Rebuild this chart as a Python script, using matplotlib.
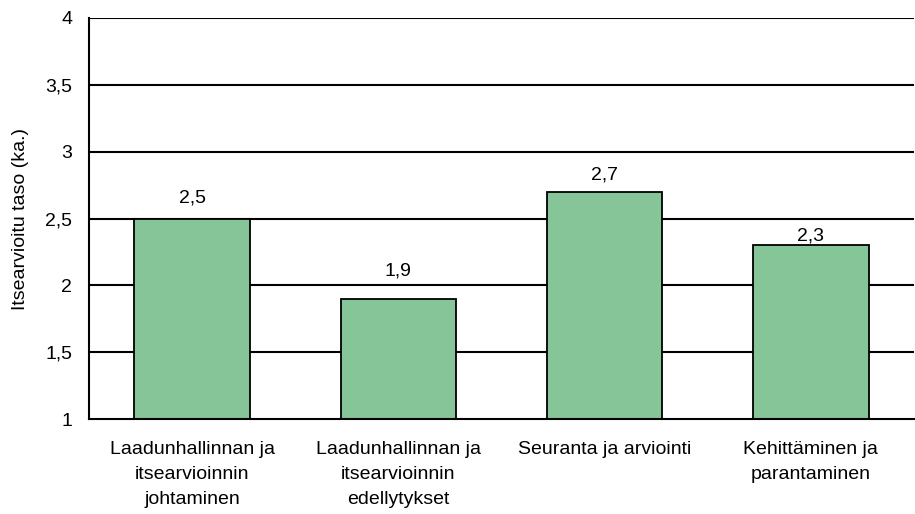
import numpy as np
import matplotlib.pyplot as plt

# Chart data
categories = ['Laadunhallinnan ja\nitsearvioinnin\njohtaminen',
              'Laadunhallinnan ja\nitsearvioinnin\nedellytykset',
              'Seuranta ja arviointi',
              'Kehittäminen ja\nparantaminen']
values = [2.5, 1.9, 2.7, 2.3]
value_labels = ['2,5', '1,9', '2,7', '2,3']
y_ticks = [1, 1.5, 2, 2.5, 3, 3.5, 4]
y_tick_labels = ['1', '1,5', '2', '2,5', '3', '3,5', '4']
# label gap above each bar (points), as placed in the original
label_offsets = [11.5, 16.5, 8.5, 3.6]

plt.rcParams['font.family'] = ['Liberation Sans', 'DejaVu Sans']

fig = plt.figure(figsize=(9.15, 5.14), dpi=100)
ax = fig.add_axes([89 / 915, 1 - 419 / 514, (914 - 89) / 915, (419 - 18) / 514])

x = np.arange(len(categories))
ax.set_axisbelow(True)
for t in y_ticks[1:]:
    ax.axhline(t, color='black', linewidth=1.5, zorder=0)
bars = ax.bar(x, np.array(values) - 1, bottom=1, width=0.56, color='#86c598',
              edgecolor='black', linewidth=1.3, zorder=2)
for xi, v, lab, off in zip(x, values, value_labels, label_offsets):
    ax.annotate(lab, (xi, v), xytext=(0, off), textcoords='offset points',
                ha='center', va='baseline', fontsize=14)

ax.set_xlim(-0.5, len(categories) - 0.5)
ax.set_ylim(1, 4)
ax.set_yticks(y_ticks)
ax.set_yticklabels(y_tick_labels, fontsize=14)
ax.set_xticks(x)
ax.set_xticklabels(categories, fontsize=14, linespacing=1.6)
ax.tick_params(axis='y', length=0, pad=12)
ax.tick_params(axis='x', length=0, pad=16)
ax.set_ylabel('Itsearvioitu taso (ka.)', fontsize=14, labelpad=12)
for s in ['top', 'right']:
    ax.spines[s].set_visible(False)
for s in ['left', 'bottom']:
    ax.spines[s].set_linewidth(1.5)
    ax.spines[s].set_color('black')

fig.savefig('out.png', dpi=100)
